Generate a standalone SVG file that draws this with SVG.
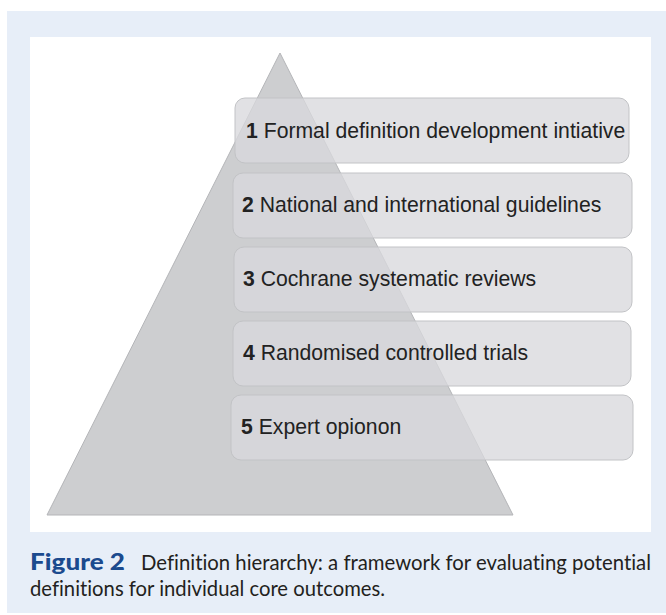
<svg xmlns="http://www.w3.org/2000/svg" width="666" height="615" viewBox="0 0 666 615">
  <style>
    .box { fill: #d8d9dc; fill-opacity: 0.78; stroke: #c2c3c6; stroke-width: 1; }
    .lbl { font-family: "Liberation Sans", Arial, sans-serif; font-size: 21.2px; fill: #222222; }
    .num { font-weight: bold; }
    .cap { font-family: Lato, "Open Sans", sans-serif; font-size: 20.5px; fill: #231f20; font-variant-ligatures: none; }
    .fig { font-weight: 900; fill: #1b4a8e; font-size: 23px; }
  </style>
  <rect x="0" y="0" width="666" height="615" fill="#ffffff"/>
  <rect x="7" y="11" width="659" height="602" fill="#e7eef8"/>
  <rect x="30" y="37" width="621" height="495" fill="#ffffff"/>

  <g id="pyramid">
    <polygon points="280,53 513,515 47,515" fill="#cdced0" stroke="#b4b5b8" stroke-width="1"/>
  </g>

  <g id="level1">
    <rect class="box" x="235" y="98" width="394" height="65" rx="10"/>
    <text class="lbl" x="246" y="138"><tspan class="num">1</tspan> Formal definition development intiative</text>
  </g>
  <g id="level2">
    <rect class="box" x="233" y="173" width="399" height="65" rx="10"/>
    <text class="lbl" x="242" y="212"><tspan class="num">2</tspan> National and international guidelines</text>
  </g>
  <g id="level3">
    <rect class="box" x="234" y="247" width="398" height="65" rx="10"/>
    <text class="lbl" x="243" y="286"><tspan class="num">3</tspan> Cochrane systematic reviews</text>
  </g>
  <g id="level4">
    <rect class="box" x="233" y="321" width="398" height="65" rx="10"/>
    <text class="lbl" x="243" y="360"><tspan class="num">4</tspan> Randomised controlled trials</text>
  </g>
  <g id="level5">
    <rect class="box" x="231" y="395" width="402" height="65" rx="10"/>
    <text class="lbl" x="241" y="434"><tspan class="num">5</tspan> Expert opionon</text>
  </g>

  <g id="connectors"></g>

  <g id="caption">
    <text class="cap fig" x="30" y="570" textLength="95" lengthAdjust="spacingAndGlyphs">Figure 2</text>
    <text class="cap" x="141" y="570" textLength="510" lengthAdjust="spacingAndGlyphs">Definition hierarchy: a framework for evaluating potential</text>
    <text class="cap" x="30" y="596" textLength="355" lengthAdjust="spacingAndGlyphs">definitions for individual core outcomes.</text>
  </g>
</svg>
